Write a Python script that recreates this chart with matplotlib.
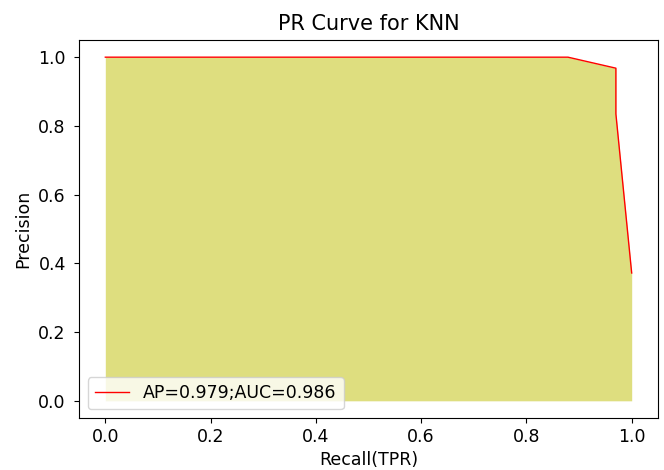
import matplotlib
matplotlib.use('Agg')
import matplotlib.pyplot as plt

recall = [0.0, 0.879, 0.970, 0.970, 1.0]
precision = [1.0, 1.0, 0.968, 0.835, 0.372]
label = 'AP=0.979;AUC=0.986'

plt.rcParams['font.size'] = 12.5

fig = plt.figure(figsize=(6.64, 4.7), dpi=100)
ax = fig.add_axes([79/664, 1 - 418/470, 579/664, 378/470])
ax.plot(recall, precision, color='red', lw=1, label=label)
ax.fill_between(recall, precision, color='y', alpha=0.5, lw=0)
ax.tick_params(axis='y', pad=6)
ax.tick_params(axis='x', pad=4)
ax.set_xlabel('Recall(TPR)', labelpad=3)
ax.set_ylabel('Precision')
ax.set_title('PR Curve for KNN', pad=7)
ax.legend(loc='lower left')
fig.savefig('out.png', dpi=100)
